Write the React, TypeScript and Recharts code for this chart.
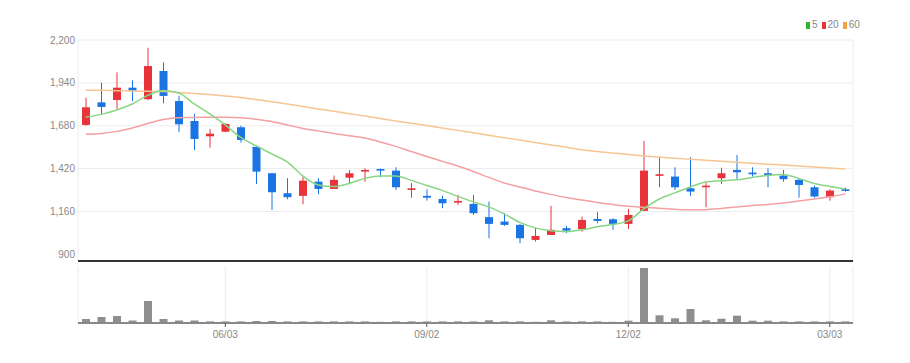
import React from "react";
import {
  ComposedChart,
  Bar,
  Line,
  XAxis,
  YAxis,
  CartesianGrid,
} from "recharts";

// weekly candles, 2024-04-01 .. 2025-03-10
const dates = [
  "04/01", "04/08", "04/15", "04/22", "04/29", "05/06", "05/13", "05/20", "05/27", "06/03",
  "06/10", "06/17", "06/24", "07/01", "07/08", "07/15", "07/22", "07/29", "08/05", "08/12",
  "08/19", "08/26", "09/02", "09/09", "09/16", "09/23", "09/30", "10/07", "10/14", "10/21",
  "10/28", "11/04", "11/11", "11/18", "11/25", "12/02", "12/09", "12/16", "12/23", "12/30",
  "01/06", "01/13", "01/20", "01/27", "02/03", "02/10", "02/17", "02/24", "03/03", "03/10",
];

const opens = [
  1685, 1822, 1836, 1911, 1841, 2012, 1830, 1709, 1616, 1644,
  1671, 1552, 1392, 1271, 1255, 1341, 1297, 1365, 1402, 1418,
  1408, 1291, 1255, 1236, 1214, 1206, 1126, 1099, 1079, 988,
  1018, 1059, 1053, 1115, 1113, 1085, 1164, 1378, 1372, 1301,
  1307, 1362, 1412, 1396, 1392, 1378, 1352, 1307, 1247, 1295,
];
const highs = [
  1850, 1941, 2004, 1956, 2153, 2065, 1862, 1752, 1661, 1695,
  1681, 1556, 1395, 1362, 1372, 1362, 1378, 1412, 1422, 1420,
  1428, 1332, 1295, 1256, 1261, 1261, 1220, 1150, 1085, 1059,
  1194, 1073, 1129, 1156, 1119, 1176, 1588, 1489, 1428, 1489,
  1335, 1426, 1503, 1428, 1422, 1412, 1362, 1317, 1295, 1305,
];
const lows = [
  1680, 1750, 1782, 1830, 1836, 1816, 1641, 1533, 1547, 1641,
  1578, 1327, 1170, 1235, 1204, 1265, 1297, 1332, 1341, 1368,
  1291, 1244, 1226, 1180, 1200, 1139, 998, 1073, 968, 978,
  1018, 1029, 1038, 1089, 1049, 1055, 1164, 1307, 1291, 1255,
  1186, 1327, 1358, 1372, 1307, 1341, 1244, 1244, 1226, 1281,
];
const closes = [
  1792, 1794, 1911, 1893, 2042, 1861, 1689, 1600, 1632, 1691,
  1594, 1402, 1277, 1247, 1347, 1297, 1352, 1392, 1412, 1408,
  1307, 1301, 1244, 1210, 1224, 1150, 1085, 1079, 998, 1012,
  1049, 1044, 1109, 1103, 1085, 1139, 1408, 1386, 1307, 1281,
  1317, 1392, 1398, 1386, 1382, 1356, 1321, 1251, 1287, 1285,
];

const ma5 = [
  1733, 1749, 1776, 1812, 1864, 1894, 1879, 1812, 1752, 1685,
  1609, 1558, 1509, 1461, 1376, 1321, 1311, 1330, 1361, 1376,
  1376, 1349, 1318, 1288, 1252, 1218, 1188, 1146, 1094, 1061,
  1043, 1038, 1049, 1067, 1082, 1103, 1176, 1236, 1273, 1309,
  1339, 1346, 1352, 1367, 1379, 1385, 1361, 1330, 1312, 1297,
];
const ma20 = [
  1629, 1633, 1646, 1667, 1694, 1718, 1729, 1730, 1732, 1732,
  1729, 1720, 1706, 1685, 1664, 1649, 1633, 1619, 1606, 1582,
  1555, 1524, 1494, 1464, 1436, 1403, 1367, 1333, 1309, 1285,
  1264, 1245, 1230, 1215, 1203, 1192, 1186, 1180, 1174, 1170,
  1171, 1179, 1188, 1197, 1203, 1212, 1224, 1236, 1249, 1267,
];
const ma60 = [
  1897, 1895, 1893, 1891, 1889, 1887, 1882, 1876, 1869, 1861,
  1852, 1839, 1826, 1812, 1797, 1782, 1768, 1753, 1739, 1724,
  1709, 1695, 1681, 1666, 1652, 1637, 1622, 1608, 1593, 1579,
  1564, 1550, 1535, 1524, 1515, 1506, 1497, 1490, 1483, 1477,
  1471, 1465, 1459, 1453, 1447, 1442, 1436, 1430, 1424, 1418,
];

// volume, thousands of shares
const volumes = [
  400, 600, 700, 250, 2200, 400, 250, 250, 160, 160,
  160, 200, 200, 160, 160, 160, 160, 160, 160, 120,
  160, 160, 160, 160, 160, 160, 270, 160, 160, 120,
  270, 160, 160, 160, 120, 230, 5500, 770, 470, 1400,
  270, 430, 730, 230, 230, 160, 160, 160, 160, 160,
];

const priceTicks = [900, 1160, 1420, 1680, 1940, 2200];
const dateTicks = ["06/03", "09/02", "12/02", "03/03"];

const rows = dates.map((date, i) => ({
  date,
  open: opens[i],
  high: highs[i],
  low: lows[i],
  close: closes[i],
  range: [lows[i], highs[i]],
  ma5: ma5[i],
  ma20: ma20[i],
  ma60: ma60[i],
  volume: volumes[i],
}));

const UP = "#e8333b";
const DOWN = "#1b74e4";
const FONT = "'Liberation Sans Narrow', 'Liberation Sans', Arial, sans-serif";

const Candle = (props: any) => {
  const { x, y, width, height, payload } = props;
  if (!payload) return null;
  const { open, close, high, low } = payload;
  const top = Math.min(y, y + height);
  const h = Math.abs(height);
  const color = close >= open ? UP : DOWN;
  const k = h / (high - low || 1);
  const cx = x + width / 2;
  const bodyTop = top + (high - Math.max(open, close)) * k;
  const bodyH = Math.max(Math.abs(open - close) * k, 1.6);
  return (
    <g>
      <line x1={cx} x2={cx} y1={top} y2={top + h} stroke={color} strokeWidth={1} />
      <rect x={x} y={bodyTop} width={width} height={bodyH} fill={color} />
    </g>
  );
};

function LegendBox() {
  const items = [
    { label: "5", color: "#2fb52f" },
    { label: "20", color: "#e8333b" },
    { label: "60", color: "#f5a23a" },
  ];
  return (
    <div
      style={{
        position: "absolute",
        top: 19,
        left: 806,
        display: "flex",
        gap: 4,
        fontFamily: FONT,
        fontSize: 10,
        color: "#888",
        lineHeight: "12px",
      }}
    >
      {items.map((it) => (
        <span key={it.label} style={{ display: "flex", alignItems: "center", gap: 2 }}>
          <span style={{ width: 4, height: 7, background: it.color, display: "inline-block" }} />
          {it.label}
        </span>
      ))}
    </div>
  );
}

export default function App() {
  return (
    <div style={{ position: "absolute", left: 0, top: 0, width: 910, height: 363, background: "#fff" }}>
      <LegendBox />
      <ComposedChart
        width={910}
        height={263}
        data={rows}
        margin={{ top: 40, right: 57, bottom: 0, left: 8 }}
        barSize={8}
      >
        <CartesianGrid stroke="#ececec" />
        <XAxis
          dataKey="date"
          ticks={dateTicks}
          interval={0}
          tick={false}
          tickLine={false}
          height={2}
          axisLine={{ stroke: "#333", strokeWidth: 2 }}
        />
        <YAxis
          domain={[860, 2200]}
          ticks={priceTicks}
          width={70}
          axisLine={false}
          tickLine={false}
          tickSize={0}
          tickMargin={3}
          tickFormatter={(v: number) => v.toLocaleString("en-US")}
          tick={{ fill: "#888", fontSize: 10, fontFamily: FONT }}
        />
        <Line type="monotone" dataKey="ma60" stroke="#f7c592" strokeWidth={1.5} dot={false} isAnimationActive={false} />
        <Line type="monotone" dataKey="ma20" stroke="#f3a0a2" strokeWidth={1.5} dot={false} isAnimationActive={false} />
        <Bar dataKey="range" shape={<Candle />} isAnimationActive={false} />
        <Line type="monotone" dataKey="ma5" stroke="#88d684" strokeWidth={1.5} dot={false} isAnimationActive={false} />
      </ComposedChart>
      <ComposedChart
        width={910}
        height={100}
        data={rows}
        margin={{ top: 3, right: 57, bottom: 0, left: 8 }}
        barSize={8}
      >
        <CartesianGrid stroke="#ececec" horizontal={false} />
        <XAxis
          dataKey="date"
          ticks={dateTicks}
          interval={0}
          height={40}
          tickSize={4}
          tickMargin={4}
          axisLine={{ stroke: "#888", strokeWidth: 2 }}
          tickLine={{ stroke: "#555" }}
          tick={{ fill: "#888", fontSize: 10, fontFamily: FONT }}
        />
        <YAxis domain={[0, 5700]} width={70} tick={false} axisLine={false} tickLine={false} />
        <Bar dataKey="volume" fill="#8e8e8e" isAnimationActive={false} />
      </ComposedChart>
    </div>
  );
}
